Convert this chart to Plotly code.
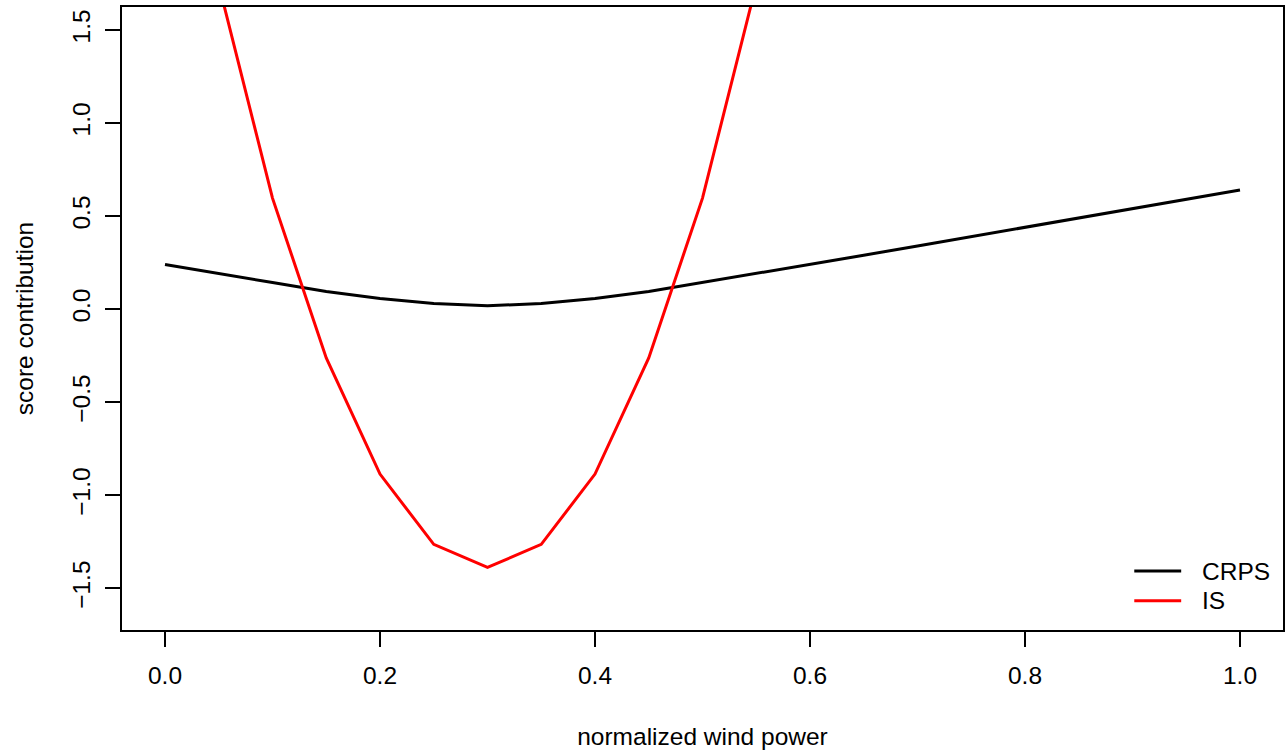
import plotly.graph_objects as go

# normalized wind power grid
power = [0.00, 0.05, 0.10, 0.15, 0.20, 0.25, 0.30, 0.35, 0.40, 0.45, 0.50,
         0.55, 0.60, 0.65, 0.70, 0.75, 0.80, 0.85, 0.90, 0.95, 1.00]

# CRPS contribution at each grid point
crps = [0.240, 0.190, 0.143, 0.095, 0.057, 0.031, 0.019, 0.030, 0.057, 0.095, 0.143,
        0.190, 0.240, 0.290, 0.340, 0.390, 0.440, 0.490, 0.540, 0.590, 0.640]

# interval score contribution (only the part inside the plotted range)
is_power = [0.05, 0.10, 0.15, 0.20, 0.25, 0.30, 0.35, 0.40, 0.45, 0.50, 0.55]
is_score = [1.745, 0.597, -0.262, -0.886, -1.264, -1.388, -1.264, -0.886, -0.262, 0.597, 1.745]

x_ticks = [0.0, 0.2, 0.4, 0.6, 0.8, 1.0]
y_ticks = [-1.5, -1.0, -0.5, 0.0, 0.5, 1.0, 1.5]

legend_names = ["CRPS", "IS"]
legend_colors = ["black", "red"]

FONT = "Liberation Sans, Arial, Helvetica, sans-serif"
FS = 24.5

fig = go.Figure()
fig.add_trace(go.Scatter(x=power, y=crps, mode="lines", name="CRPS",
                         line=dict(color="black", width=3)))
fig.add_trace(go.Scatter(x=is_power, y=is_score, mode="lines", name="IS",
                         line=dict(color="red", width=3)))

axis_common = dict(
    showline=True, linecolor="black", linewidth=1.5, mirror=True,
    showgrid=False, zeroline=False,
    ticks="outside", ticklen=15, tickwidth=1.5, tickcolor="black",
    tickfont=dict(family=FONT, size=FS, color="black"),
)

fig.update_layout(
    width=1285, height=750,
    margin=dict(l=122, r=0, t=7, b=120),
    paper_bgcolor="white", plot_bgcolor="white",
    showlegend=False,
    font=dict(family=FONT, size=FS, color="black"),
    xaxis=dict(range=[-0.04, 1.04], tickvals=x_ticks, tickformat=".1f",
               ticklabelstandoff=8,
               title=dict(text="normalized wind power", standoff=40,
                          font=dict(family=FONT, size=FS, color="black")),
               **axis_common),
    yaxis=dict(range=[-1.724, 1.624], tickvals=y_ticks, tickformat=".1f",
               tickangle=-90, ticklabelstandoff=5,
               title=dict(text="score contribution", standoff=28,
                          font=dict(family=FONT, size=FS, color="black")),
               **axis_common),
)

# legend drawn in the lower-right corner of the plotting region
legend_y = [0.0947, 0.0470]
for name, color, ly in zip(legend_names, legend_colors, legend_y):
    fig.add_shape(type="line", xref="paper", yref="paper",
                  x0=0.8719, x1=0.9123, y0=ly, y1=ly,
                  line=dict(color=color, width=3))
    fig.add_annotation(xref="paper", yref="paper", x=0.9285, y=ly,
                       text=name, showarrow=False, xanchor="left", yanchor="middle",
                       font=dict(family=FONT, size=FS, color="black"))

fig.write_html("out.html")
